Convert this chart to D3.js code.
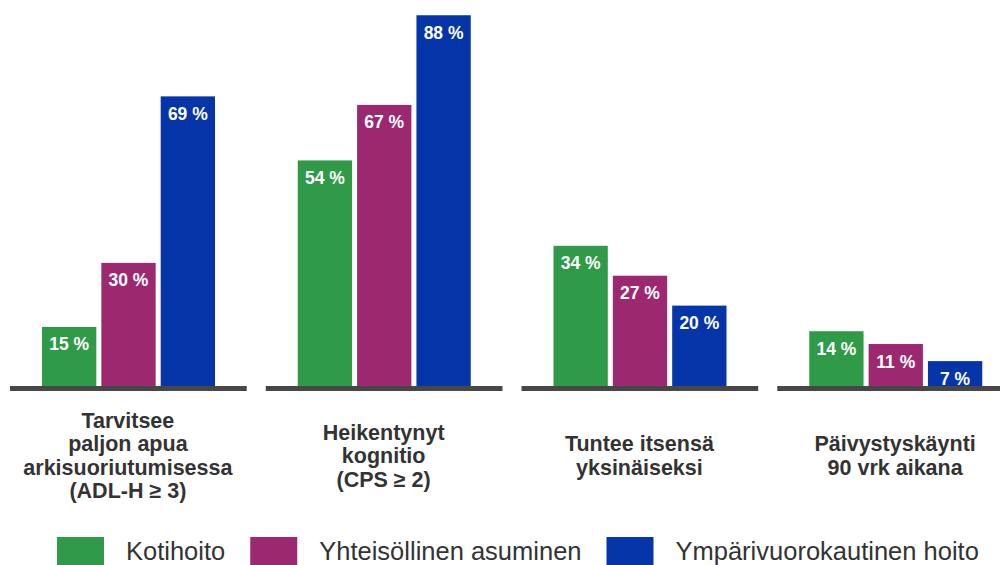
<!DOCTYPE html>
<html>
<head>
<meta charset="utf-8">
<script src="https://cdn.jsdelivr.net/npm/d3@7"></script>
<style>
  body { margin: 0; background: #fff; }
  svg { display: block; font-family: "Liberation Sans", Arial, sans-serif; }
</style>
</head>
<body>
<div id="chart"></div>
<script>
// Data
const categories = [
  "Tarvitsee\npaljon apua\narkisuoriutumisessa\n(ADL-H ≥ 3)",
  "Heikentynyt\nkognitio\n(CPS ≥ 2)",
  "Tuntee itsensä\nyksinäiseksi",
  "Päivystyskäynti\n90 vrk aikana"
];
const series = ["Kotihoito", "Yhteisöllinen asuminen", "Ympärivuorokautinen hoito"];
const kotihoito = [15, 54, 34, 14];
const yhteisollinen = [30, 67, 27, 11];
const ymparivuorokautinen = [69, 88, 20, 7];
const colors = ["#2f9a48", "#9c2970", "#0535a9"];

const width = 1000;
const height = 565;
const valuesBySeries = [kotihoito, yhteisollinen, ymparivuorokautinen];

const svg = d3.select("#chart")
  .append("svg")
  .attr("width", width)
  .attr("height", height);

// Scales
const x0 = d3.scaleBand().domain(categories).range([0, 1023]);
const x1 = d3.scaleBand().domain(series).range([42, 215]).paddingInner(0.085);
const y = d3.scaleLinear().domain([0, 100]).range([391, -36]);
const color = d3.scaleOrdinal().domain(series).range(colors);

const baseY = 388.5;

// Build rows for bars
const rows = [];
categories.forEach((c, i) => {
  series.forEach((s, j) => {
    rows.push({ cat: c, series: s, value: valuesBySeries[j][i] });
  });
});

// Bars
svg.append("g")
  .selectAll("rect")
  .data(rows)
  .enter()
  .append("rect")
  .attr("x", d => x0(d.cat) + x1(d.series))
  .attr("y", d => y(d.value))
  .attr("width", x1.bandwidth())
  .attr("height", d => y(0) - y(d.value))
  .attr("fill", d => color(d.series));

// Value labels inside the bars
svg.append("g")
  .selectAll("text")
  .data(rows)
  .enter()
  .append("text")
  .attr("x", d => x0(d.cat) + x1(d.series) + x1.bandwidth() / 2)
  .attr("y", d => y(d.value) + 23.5)
  .attr("text-anchor", "middle")
  .attr("fill", "#fff")
  .style("font-weight", "bold")
  .style("font-size", "17.5px")
  .text(d => d.value + " %");

// Baseline pieces, one per group
svg.append("g")
  .selectAll("line")
  .data(categories)
  .enter()
  .append("line")
  .attr("x1", d => x0(d) + 10)
  .attr("x2", d => x0(d) + x0.bandwidth() - 9)
  .attr("y1", baseY)
  .attr("y2", baseY)
  .attr("stroke", "#474747")
  .attr("stroke-width", 5);

// Category labels below the groups
const lineH = 23.5;
svg.append("g")
  .selectAll("text")
  .data(categories)
  .enter()
  .append("text")
  .attr("text-anchor", "middle")
  .attr("fill", "#333")
  .style("font-weight", "bold")
  .style("font-size", "21.5px")
  .each(function (d) {
    const lines = d.split("\n");
    const first = 463 - (lines.length - 1) * lineH / 2;
    d3.select(this).selectAll("tspan")
      .data(lines)
      .enter()
      .append("tspan")
      .attr("x", x0(d) + x0.bandwidth() / 2)
      .attr("y", (l, k) => first + k * lineH)
      .text(l => l);
  });

// Legend
const legend = svg.append("g");
let lx = 57;
series.forEach(s => {
  legend.append("rect")
    .attr("x", lx)
    .attr("y", 537)
    .attr("width", 47)
    .attr("height", 28)
    .attr("fill", color(s));
  const t = legend.append("text")
    .attr("x", lx + 69)
    .attr("y", 560)
    .attr("fill", "#333")
    .style("font-size", "25.5px")
    .text(s);
  lx += 69 + t.node().getComputedTextLength() + 25;
});
</script>
</body>
</html>
